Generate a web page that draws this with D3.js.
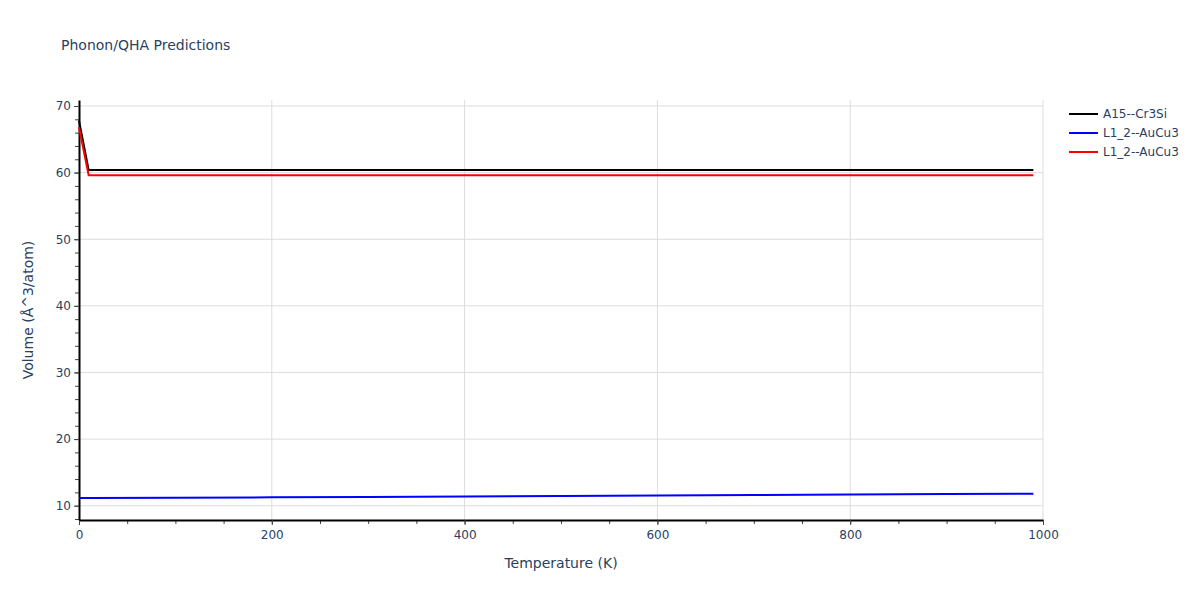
<!DOCTYPE html>
<html>
<head>
<meta charset="utf-8">
<script src="https://cdn.jsdelivr.net/npm/d3@7"></script>
<style>
body { margin: 0; background: #fff; }
text { font-family: "DejaVu Sans", Verdana, Arial, sans-serif; fill: #2a3f5f; }
</style>
</head>
<body>
<script>
// temperatures (K) and volumes
var temps = [0, 10, 100, 200, 300, 400, 500, 600, 700, 800, 900, 990];
var cr3si = [67.8, 60.4, 60.4, 60.4, 60.4, 60.4, 60.4, 60.4, 60.4, 60.4, 60.4, 60.4];
var aucu3a = [11.15, 11.16, 11.2, 11.25, 11.32, 11.39, 11.46, 11.53, 11.6, 11.67, 11.74, 11.8];
var aucu3b = [66.8, 59.6, 59.6, 59.6, 59.6, 59.6, 59.6, 59.6, 59.6, 59.6, 59.6, 59.6];
var names = ["A15--Cr3Si", "L1_2--AuCu3", "L1_2--AuCu3"];
var colors = ["#000000", "#0000ff", "#ff0000"];
var xTicks = [0, 200, 400, 600, 800, 1000];
var yTicks = [10, 20, 30, 40, 50, 60, 70];

var W = 1200, H = 600;
var mLeft = 79, mRight = 1043, mTop = 100, mBottom = 520;
var fnt = '"DejaVu Sans", Verdana, Arial, sans-serif';

var svg = d3.select("body").append("svg")
  .attr("width", W)
  .attr("height", H);

var x = d3.scaleLinear().domain([0, 1000]).range([mLeft, mRight]);
var y = d3.scaleLinear().domain([7.85, 70.9]).range([mBottom, mTop]);

// grid
svg.selectAll(".gx").data(xTicks.slice(1)).enter().append("line")
  .attr("x1", d => x(d)).attr("x2", d => x(d))
  .attr("y1", mTop).attr("y2", mBottom)
  .attr("stroke", "#dcdcdc").attr("stroke-width", 1);
svg.selectAll(".gy").data(yTicks).enter().append("line")
  .attr("x1", mLeft).attr("x2", mRight)
  .attr("y1", d => y(d)).attr("y2", d => y(d))
  .attr("stroke", "#dcdcdc").attr("stroke-width", 1);

// minor ticks
var xMinor = d3.range(0, 1001, 50);
var yMinor = d3.range(8, 71, 2);
svg.append("g").attr("transform", "translate(0," + mBottom + ")")
  .call(d3.axisBottom(x).tickValues(xMinor).tickSize(4).tickFormat(""))
  .call(g => g.select(".domain").remove())
  .selectAll("line").attr("stroke", "#444");
svg.append("g").attr("transform", "translate(" + mLeft + ",0)")
  .call(d3.axisLeft(y).tickValues(yMinor).tickSize(4).tickFormat(""))
  .call(g => g.select(".domain").remove())
  .selectAll("line").attr("stroke", "#444");

// main axes
var xa = svg.append("g").attr("transform", "translate(0," + mBottom + ")")
  .call(d3.axisBottom(x).tickValues(xTicks).tickSize(5).tickSizeOuter(0).tickPadding(5).tickFormat(d3.format("d")));
var ya = svg.append("g").attr("transform", "translate(" + mLeft + ",0)")
  .call(d3.axisLeft(y).tickValues(yTicks).tickSize(5).tickSizeOuter(0).tickPadding(3).tickFormat(d3.format("d")));
[xa, ya].forEach(function(a) {
  a.select(".domain").attr("stroke", "#000").attr("stroke-width", 2);
  a.selectAll(".tick line").attr("stroke", "#444");
  a.selectAll(".tick text").style("font-size", "12px").attr("fill", "#2a3f5f")
    .style("font-family", fnt);
});

// lines
var series = [cr3si, aucu3a, aucu3b];
var line = d3.line().x((d, i) => x(temps[i])).y(d => y(d));
series.forEach(function(s, k) {
  svg.append("path").datum(s)
    .attr("d", line)
    .attr("fill", "none")
    .attr("stroke", colors[k])
    .attr("stroke-width", 2);
});

// legend
names.forEach(function(n, k) {
  var ly = 114 + k * 19;
  svg.append("line").attr("x1", 1069).attr("x2", 1098)
    .attr("y1", ly).attr("y2", ly)
    .attr("stroke", colors[k]).attr("stroke-width", 2);
  svg.append("text").attr("x", 1103).attr("y", ly + 4)
    .style("font-size", "12px").text(n);
});

// titles
svg.append("text").attr("x", 61).attr("y", 50)
  .style("font-size", "14px").text("Phonon/QHA Predictions");
svg.append("text").attr("x", (mLeft + mRight) / 2).attr("y", 568)
  .attr("text-anchor", "middle").style("font-size", "14px").text("Temperature (K)");
svg.append("text")
  .attr("transform", "translate(33," + (mTop + mBottom) / 2 + ") rotate(-90)")
  .attr("text-anchor", "middle").style("font-size", "14px").text("Volume (Å^3/atom)");
</script>
</body>
</html>
